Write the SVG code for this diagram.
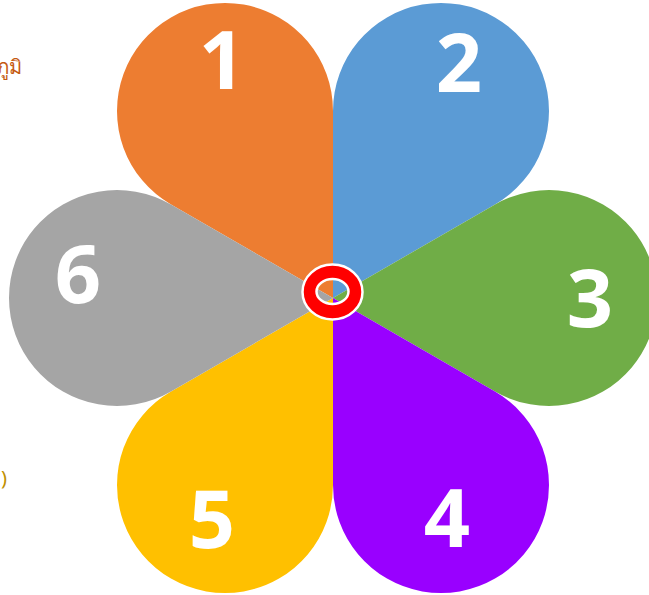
<svg xmlns="http://www.w3.org/2000/svg" width="649" height="595" viewBox="0 0 649 595">
<style>
.num{font-family:"Open Sans","Liberation Sans",sans-serif;font-weight:bold;font-size:81px;fill:#fff;text-anchor:middle}
.side{font-family:"Noto Sans","DejaVu Sans",sans-serif;font-size:20px}
</style>
<defs>
<path id="petal" d="M0,0 L162,-93.53 A108,108 0 1 1 162,93.53 Z"/>
</defs>
<rect width="649" height="595" fill="#fff"/>
<text class="side" x="22" y="74" fill="#C55A11" text-anchor="end">ภูมิ</text>
<text class="side" x="1" y="485" fill="#BF9000">)</text>
<g id="petal1"><use href="#petal" transform="translate(333,298) rotate(-120)" fill="#ED7D31"/><text class="num" x="222" y="89">1</text></g>
<g id="petal2"><use href="#petal" transform="translate(333,298) rotate(-60)" fill="#5B9BD5"/><text class="num" x="459" y="92">2</text></g>
<g id="petal3"><use href="#petal" transform="translate(333,298) rotate(0)" fill="#70AD47"/><text class="num" x="590" y="327">3</text></g>
<g id="petal4"><use href="#petal" transform="translate(333,298) rotate(60)" fill="#9900FF"/><text class="num" x="447" y="547">4</text></g>
<g id="petal5"><use href="#petal" transform="translate(333,298) rotate(120)" fill="#FFC000"/><text class="num" x="212" y="548">5</text></g>
<g id="petal6"><use href="#petal" transform="translate(333,298) rotate(180)" fill="#A5A5A5"/><text class="num" x="78" y="303">6</text></g>
<g id="ring"><path d="M302.5,292 a30,27.5 0 1 0 60,0 a30,27.5 0 1 0 -60,0 Z M316.5,291.5 a16,12.5 0 1 0 32,0 a16,12.5 0 1 0 -32,0 Z" fill="#FF0000" fill-rule="evenodd" stroke="#fff" stroke-width="2.5"/></g>
<g id="connectors"/>
</svg>
